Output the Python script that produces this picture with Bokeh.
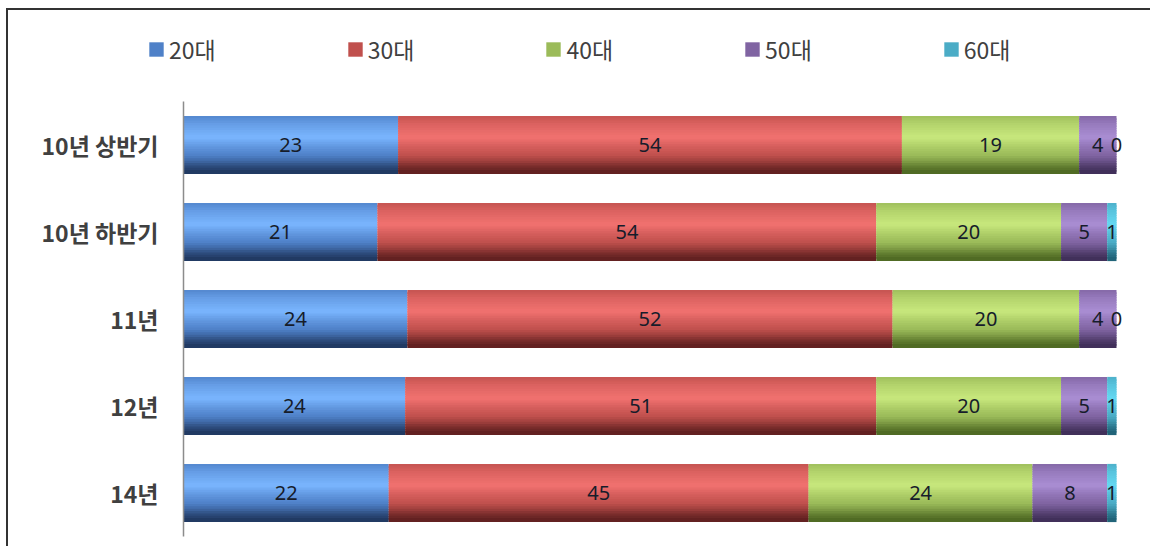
from bokeh.plotting import figure
from bokeh.models import ColumnDataSource, Range1d, Legend, LegendItem
from bokeh.core.properties import value
from bokeh.embed import file_html
from bokeh.resources import INLINE

categories = ["10년 상반기", "10년 하반기", "11년", "12년", "14년"]
series_names = ["20대", "30대", "40대", "50대", "60대"]
s20 = [23, 21, 24, 24, 22]
s30 = [54, 54, 52, 51, 45]
s40 = [19, 20, 20, 20, 24]
s50 = [4, 5, 4, 5, 8]
s60 = [0, 1, 0, 1, 1]
series = [s20, s30, s40, s50, s60]

# (light, mid, dark) shades per series
shades = [
    ((122, 182, 255), (79, 129, 200), (28, 50, 88)),
    ((242, 114, 112), (192, 80, 77), (88, 28, 28)),
    ((200, 232, 125), (155, 187, 89), (72, 98, 30)),
    ((170, 142, 212), (128, 100, 162), (58, 42, 82)),
    ((100, 216, 242), (75, 172, 198), (28, 92, 112)),
]
stops = [(0.0, 0.1), (0.15, 0.55), (0.38, 1.0), (0.55, 0.4), (0.75, -0.15), (0.9, -0.7), (1.0, -0.95)]


def mix(shade, m):
    light, mid, dark = shade
    if m >= 0:
        c = [mid[i] + (light[i] - mid[i]) * m for i in range(3)]
    else:
        c = [mid[i] + (dark[i] - mid[i]) * (-m) for i in range(3)]
    return "#%02x%02x%02x" % tuple(int(round(v)) for v in c)


def profile(t):
    for (t0, m0), (t1, m1) in zip(stops[:-1], stops[1:]):
        if t0 <= t <= t1:
            return m0 + (m1 - m0) * (t - t0) / (t1 - t0)
    return stops[-1][1]


n = len(categories)
ypos = [n - 1 - i for i in range(n)]
bar_h = 0.65
N = 24

# layout (pixels inside the figure)
W, H = 1144, 538
plot_left, plot_right = 175, 1108      # where 0 and 100 fall
band_top, band_bottom = 91, 526        # category area
pxu_x = (plot_right - plot_left) / 100.0
pxu_y = (band_bottom - band_top) / n
x_range = Range1d(-plot_left / pxu_x, (W - plot_left) / pxu_x)
y_range = Range1d(-0.5 - (H - band_bottom) / pxu_y, n - 0.5 + band_top / pxu_y)

p = figure(width=W, height=H, output_backend="svg", toolbar_location=None,
           x_range=x_range, y_range=y_range,
           x_axis_location=None, y_axis_location=None,
           min_border_left=0, min_border_right=0, min_border_top=0, min_border_bottom=0)
p.outline_line_color = None
p.grid.visible = False
p.margin = (8, 0, 0, 6)
p.styles = {"border-top": "2px solid #333333", "border-left": "2px solid #333333"}

rows = {"y": [], "left": [], "right": [], "color": []}
lab = {"x": [], "y": [], "text": []}
for ci in range(n):
    total = sum(s[ci] for s in series)
    cum = 0.0
    for si, s in enumerate(series):
        w = s[ci] / total * 100.0
        left, right = cum, cum + w
        for k in range(N):
            t = (k + 0.5) / N
            rows["y"].append(ypos[ci] + bar_h / 2 - t * bar_h)
            rows["left"].append(left)
            rows["right"].append(right)
            rows["color"].append(mix(shades[si], profile(t)))
        lab["x"].append((left + right) / 2)
        lab["y"].append(ypos[ci])
        lab["text"].append(str(s[ci]))
        cum = right

src = ColumnDataSource(rows)
p.hbar(y="y", left="left", right="right", height=bar_h / N * 1.7, fill_color="color",
       line_color=None, source=src)

p.text(x="x", y="y", text="text", source=ColumnDataSource(lab), text_align="center",
       text_baseline="middle", text_font=value("Noto Sans"), text_font_size="20px",
       text_color="#161c2a")

# category axis: line + labels
p.segment(x0=[0], x1=[0], y0=[-0.5], y1=[n - 0.5], line_color="#8c8c8c", line_width=1.5)
p.text(x=[0] * n, y=ypos, text=categories, x_offset=-25, text_align="right",
       text_baseline="middle", text_font=value("Noto Sans CJK KR"), text_font_style="bold",
       text_font_size="23px", text_color="#404040")

# legend
items = []
for si, name in enumerate(series_names):
    r = p.hbar(y=[-50], left=[-50], right=[-49], height=0.5, fill_color=mix(shades[si], 0.0),
               line_color=None)
    items.append(LegendItem(label=name, renderers=[r]))
legend = Legend(items=items, orientation="horizontal", location=(139, H - 56),
                glyph_width=18, glyph_height=18, label_standoff=4,
                spacing=130, padding=0, margin=0, border_line_color=None,
                background_fill_alpha=0, label_text_font="Noto Sans CJK KR",
                label_text_font_size="23px", label_text_color="#404040")
p.add_layout(legend, "center")

open("out.html", "w").write(file_html(p, INLINE))
